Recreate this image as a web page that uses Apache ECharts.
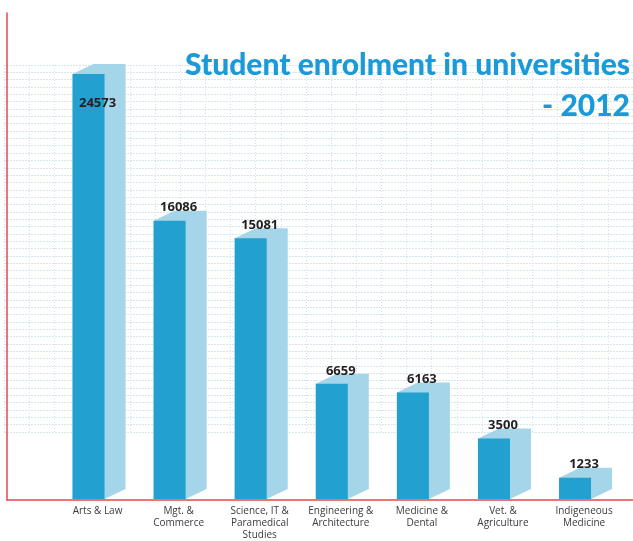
<!DOCTYPE html>
<html>
<head>
<meta charset="utf-8">
<script src="https://cdn.jsdelivr.net/npm/echarts@6/dist/echarts.min.js"></script>
<style>
  html, body { margin: 0; padding: 0; background: #ffffff; }
  #chart { width: 633px; height: 541px; }
</style>
</head>
<body>
<div id="chart"></div>
<script>
// Enrolment by field of study, 2012
const categories = [
  'Arts & Law',
  'Mgt. &\nCommerce',
  'Science, IT &\nParamedical\nStudies',
  'Engineering &\nArchitecture',
  'Medicine &\nDental',
  'Vet. &\nAgriculture',
  'Indigeneous\nMedicine'
];
const students = [24573, 16086, 15081, 6659, 6163, 3500, 1233];
const titleLines = ['Student enrolment in universities', '- 2012'];

const FRONT = '#22a0cf';
const SIDE = '#a4d5e9';
const AXIS_RED = '#e5474f';
const maxStudents = Math.max(...students);

const chart = echarts.init(document.getElementById('chart'), null, { renderer: 'canvas' });

const titleStyle = {
  fontFamily: 'Lato',
  fontWeight: 900,
  fontSize: 30,
  lineHeight: 36,
  color: '#1a9ad8'
};

const option = {
  backgroundColor: '#ffffff',
  animation: false,
  // one right-aligned title block per line
  title: titleLines.map((line, i) => ({
    text: line,
    right: 3,
    top: 47 + i * 41,
    padding: 0,
    textStyle: titleStyle
  })),
  grid: [
    // graph-paper backdrop
    { left: 4, top: 65, width: 641, height: 367, containLabel: false },
    // red frame
    { left: 7, right: 0, top: 13, bottom: 41, containLabel: false },
    // bars
    { left: 57, right: 8.4, top: 13, bottom: 41, containLabel: false }
  ],
  xAxis: [
    {
      gridIndex: 0, type: 'value', min: 0, max: 25, interval: 1,
      axisLine: { show: false }, axisTick: { show: false }, axisLabel: { show: false },
      splitLine: { show: true, lineStyle: { color: '#d0e3ec', width: 1, type: [1, 2] } }
    },
    {
      gridIndex: 1, type: 'value', min: 0, max: 1,
      axisLine: { show: true, onZero: false, lineStyle: { color: AXIS_RED, width: 1.5 } },
      axisTick: { show: false }, axisLabel: { show: false }, splitLine: { show: false }
    },
    {
      gridIndex: 2, type: 'category', data: categories,
      axisLine: { show: false }, axisTick: { show: false },
      axisLabel: {
        interval: 0, margin: 6, fontFamily: 'Open Sans', fontSize: 10,
        lineHeight: 12, color: '#3b3b3b', verticalAlign: 'top'
      },
      splitLine: { show: false }
    }
  ],
  yAxis: [
    {
      gridIndex: 0, type: 'value', min: 0, max: 50, interval: 1,
      axisLine: { show: false }, axisTick: { show: false }, axisLabel: { show: false },
      splitLine: { show: true, lineStyle: { color: '#d6e6ed', width: 1, type: [2, 1] } }
    },
    {
      gridIndex: 1, type: 'value', min: 0, max: 1,
      axisLine: { show: true, onZero: false, lineStyle: { color: AXIS_RED, width: 1.5 } },
      axisTick: { show: false }, axisLabel: { show: false }, splitLine: { show: false }
    },
    {
      gridIndex: 2, type: 'value', min: 0, max: 28100,
      axisLine: { show: false }, axisTick: { show: false }, axisLabel: { show: false },
      splitLine: { show: false }
    }
  ],
  series: [
    {
      type: 'custom',
      name: 'Students',
      xAxisIndex: 2,
      yAxisIndex: 2,
      z: 5,
      data: students.map((v, i) => [i, v]),
      encode: { x: 0, y: 1 },
      renderItem(params, api) {
        const idx = api.value(0);
        const v = api.value(1);
        const top = api.coord([idx, v]);
        const base = api.coord([idx, 0]);
        const c = top[0];
        const x0 = c - 25, x1 = c + 7;
        const yt = top[1], yb = base[1];
        const dx = 21, dy = 10;
        const inside = v === maxStudents;
        return {
          type: 'group',
          children: [
            {
              type: 'polygon',
              shape: { points: [[x0, yt], [x0 + dx, yt - dy], [x1 + dx, yt - dy], [x1 + dx, yb - dy], [x1, yb], [x0, yb]] },
              style: { fill: SIDE }
            },
            {
              type: 'rect',
              shape: { x: x0, y: yt, width: x1 - x0, height: yb - yt },
              style: { fill: FRONT }
            },
            {
              type: 'text',
              style: {
                text: String(v),
                x: c,
                y: inside ? yt + 29 : yt - 13,
                align: 'center',
                verticalAlign: 'middle',
                font: 'bold 13px "Open Sans"',
                fill: '#231f20'
              }
            }
          ]
        };
      }
    }
  ]
};

chart.setOption(option);
</script>
</body>
</html>
